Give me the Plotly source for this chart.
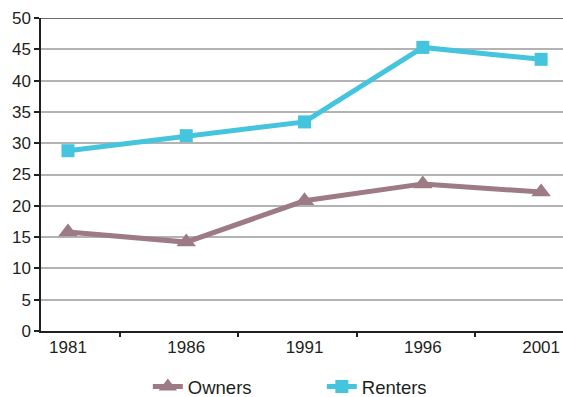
import plotly.graph_objects as go

years = ["1981", "1986", "1991", "1996", "2001"]
owners = [15.8, 14.2, 20.8, 23.5, 22.2]
renters = [28.8, 31.2, 33.4, 45.3, 43.4]
y_ticks = [0, 5, 10, 15, 20, 25, 30, 35, 40, 45, 50]

idx = list(range(len(years)))
font = dict(family="Liberation Sans, Arial, sans-serif", size=17, color="#231F20")

fig = go.Figure()
fig.add_trace(go.Scatter(
    x=idx, y=owners, name="Owners", mode="lines+markers",
    line=dict(color="#9C7B85", width=5),
    marker=dict(symbol="triangle-up", size=17, color="#9C7B85"),
))
fig.add_trace(go.Scatter(
    x=idx, y=renters, name="Renters", mode="lines+markers",
    line=dict(color="#45C4DD", width=5),
    marker=dict(symbol="square", size=13, color="#45C4DD"),
))

# separate tick marks between the categories
fig.add_trace(go.Scatter(x=[0.44], y=[None], xaxis="x2", showlegend=False, hoverinfo="skip"))

x_range = [-0.228, 4.185]
fig.update_layout(
    width=563, height=397,
    margin=dict(l=41, r=0, t=18, b=66, autoexpand=False),
    paper_bgcolor="white", plot_bgcolor="white",
    font=font,
    showlegend=True,
    legend=dict(orientation="h", x=0.538, xanchor="center", yref="container",
                y=0.025, yanchor="middle", font=dict(size=18.5),
                entrywidth=129, entrywidthmode="pixels", traceorder="normal"),
    xaxis=dict(range=x_range, tickvals=idx, ticktext=years, showgrid=False,
               showline=True, linecolor="#231F20", linewidth=1.5, ticks="",
               zeroline=False, tickfont=dict(size=17)),
    xaxis2=dict(range=x_range, overlaying="x", tickvals=[0.44, 1.44, 2.44, 3.44],
                showticklabels=False, ticks="outside", ticklen=5, tickcolor="#231F20",
                tickwidth=1.5, showgrid=False, showline=False, zeroline=False,
                side="bottom", anchor="y"),
    yaxis=dict(range=[0, 50], tickvals=y_ticks, showgrid=True, gridcolor="#B3B3B6",
               gridwidth=1.5, showline=True, linecolor="#231F20", linewidth=1.5,
               ticks="outside", ticklen=5, tickcolor="#231F20", tickwidth=1.5,
               zeroline=False, tickfont=dict(size=17)),
)
fig.add_shape(type="line", xref="paper", yref="y", x0=0, x1=1, y0=50, y1=50,
              line=dict(color="#3A3A3A", width=1.5))

fig.write_html("out.html")
